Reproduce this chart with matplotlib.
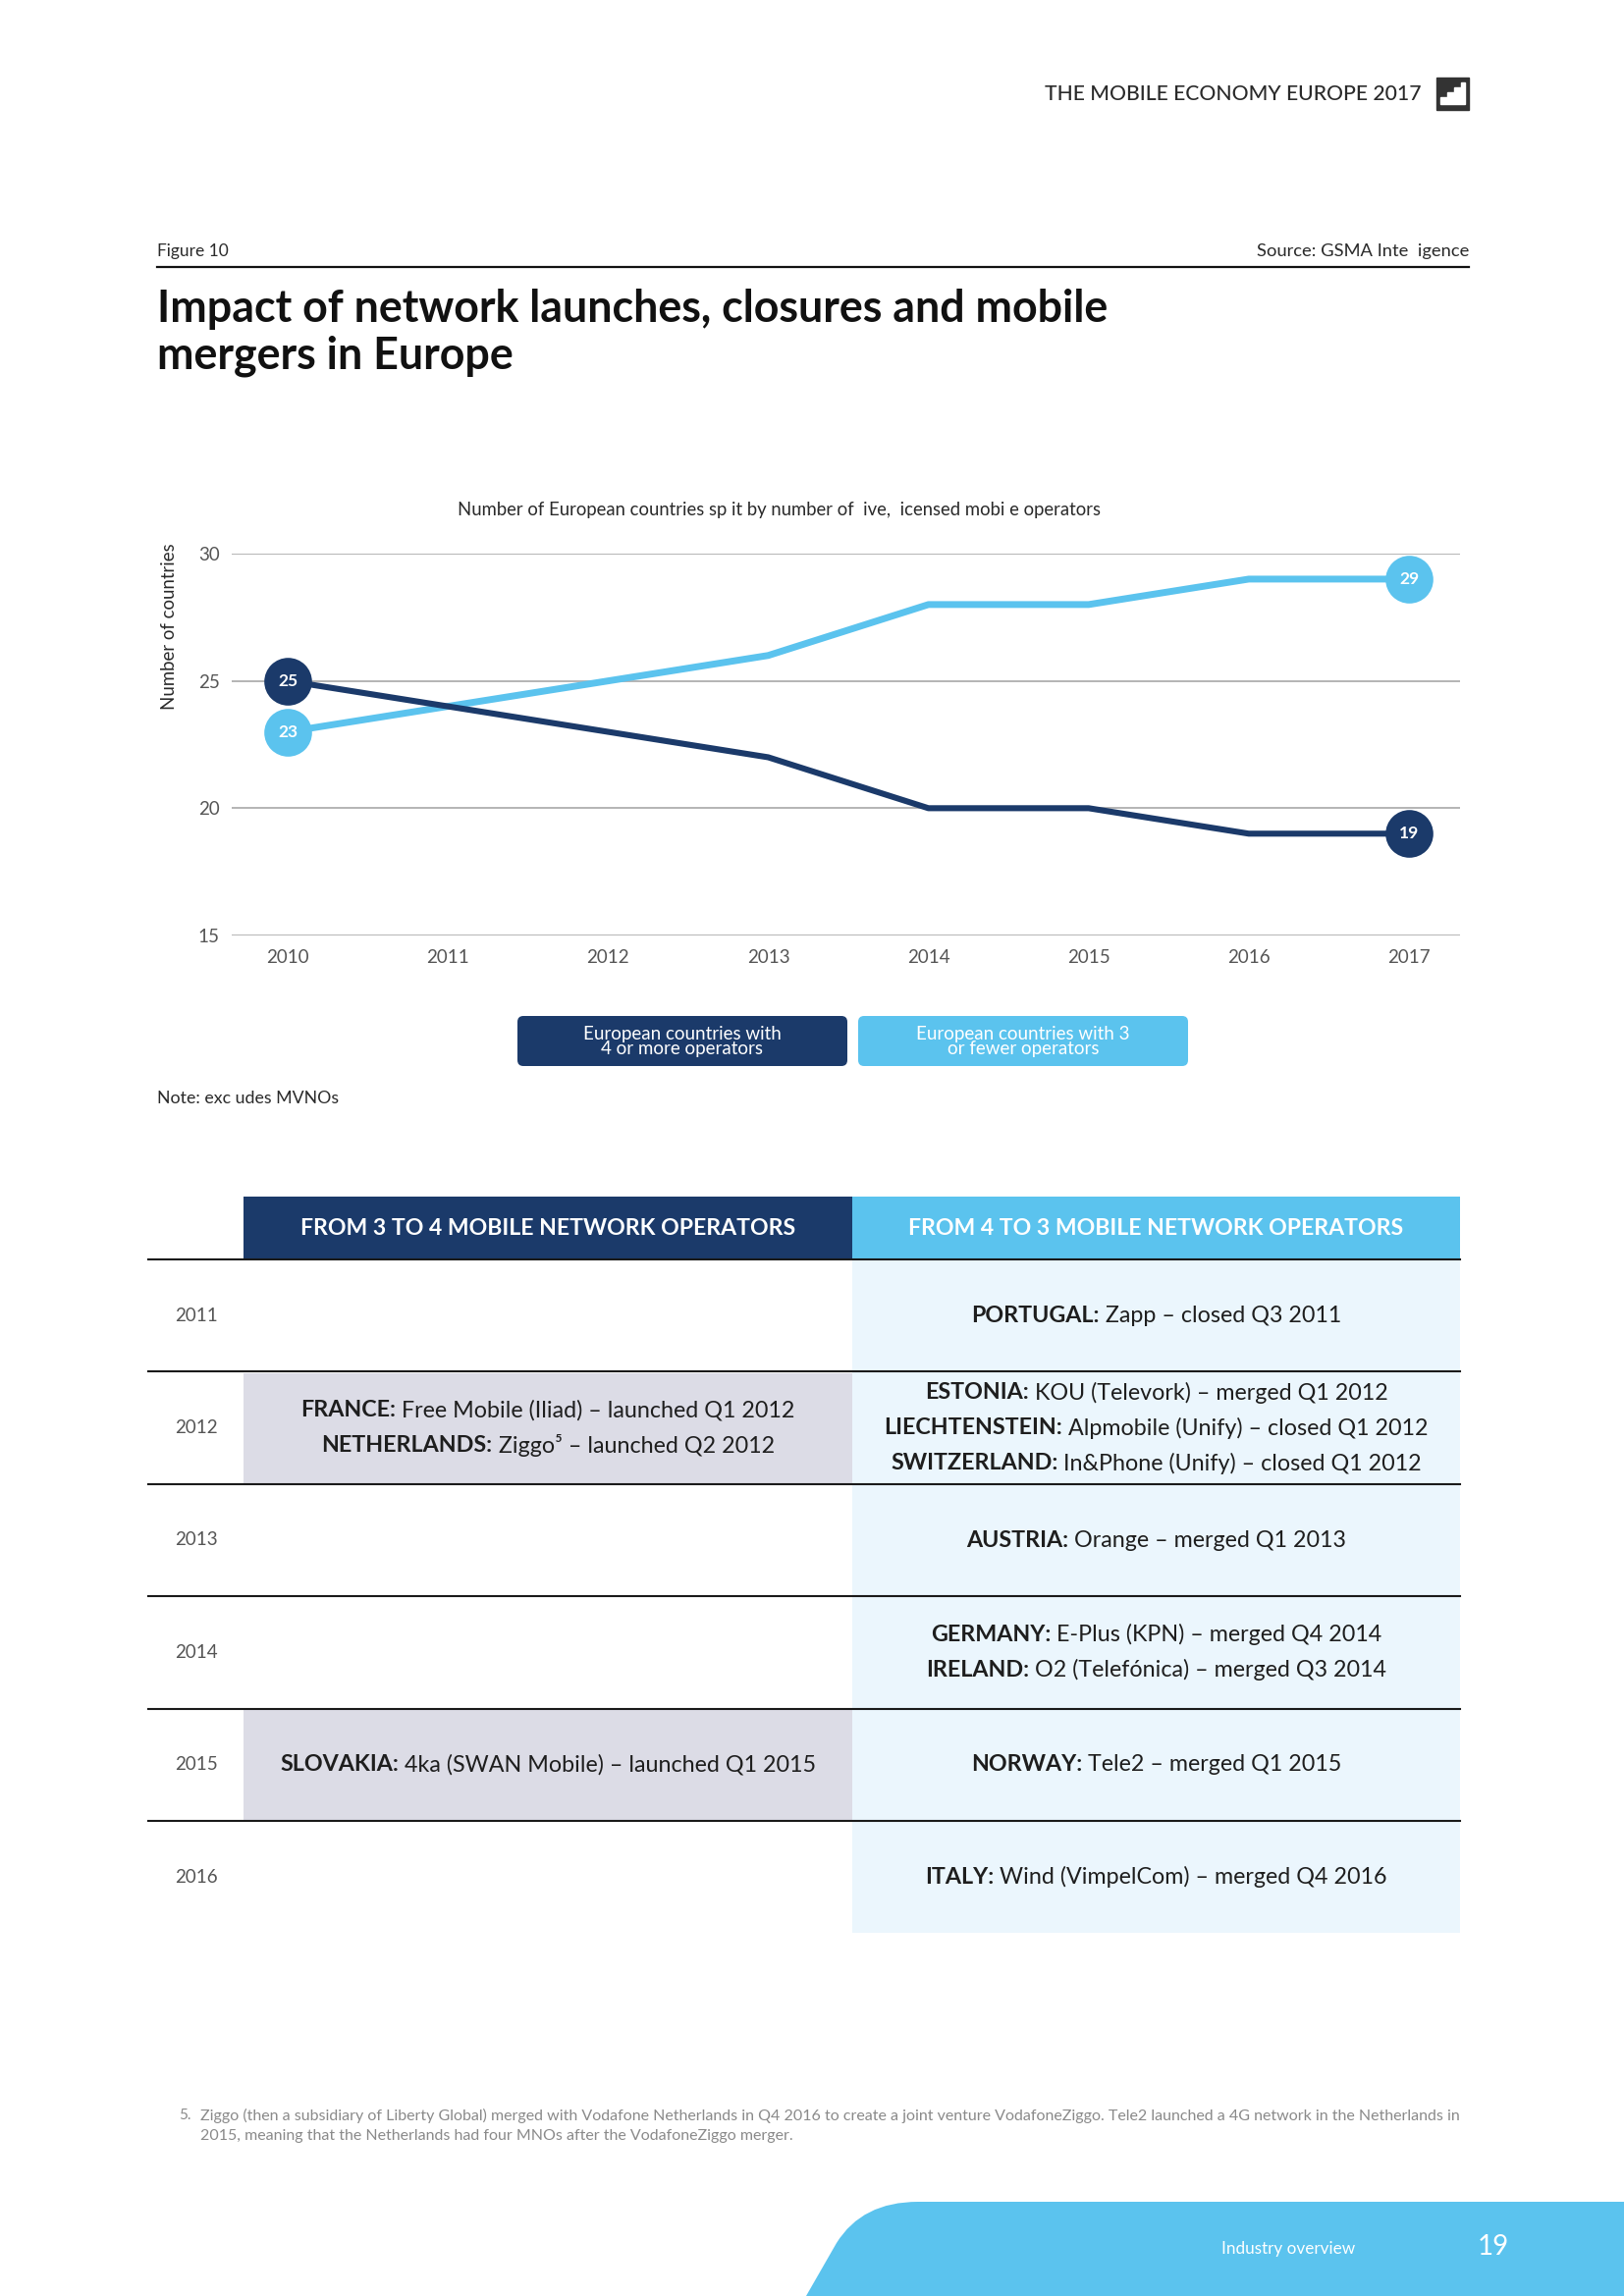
import matplotlib
matplotlib.use('Agg')
import matplotlib.pyplot as plt
from matplotlib.patches import Rectangle, FancyBboxPatch, PathPatch, Polygon
from matplotlib.path import Path

# ---------------------------------------------------------------
#  Data
# ---------------------------------------------------------------
years = [2010, 2011, 2012, 2013, 2014, 2015, 2016, 2017]
four_or_more = [25, 24, 23, 22, 20, 20, 19, 19]
three_or_fewer = [23, 24, 25, 26, 28, 28, 29, 29]
y_ticks = [15, 20, 25, 30]

table_years = ['2011', '2012', '2013', '2014', '2015', '2016']
launches = [
    [],
    [('FRANCE:', ' Free Mobile (Iliad) – launched Q1 2012'),
     ('NETHERLANDS:', ' Ziggo⁵ – launched Q2 2012')],
    [],
    [],
    [('SLOVAKIA:', ' 4ka (SWAN Mobile) – launched Q1 2015')],
    [],
]
closures = [
    [('PORTUGAL:', ' Zapp – closed Q3 2011')],
    [('ESTONIA:', ' KOU (Televork) – merged Q1 2012'),
     ('LIECHTENSTEIN:', ' Alpmobile (Unify) – closed Q1 2012'),
     ('SWITZERLAND:', ' In&Phone (Unify) – closed Q1 2012')],
    [('AUSTRIA:', ' Orange – merged Q1 2013')],
    [('GERMANY:', ' E-Plus (KPN) – merged Q4 2014'),
     ('IRELAND:', ' O2 (Telefónica) – merged Q3 2014')],
    [('NORWAY:', ' Tele2 – merged Q1 2015')],
    [('ITALY:', ' Wind (VimpelCom) – merged Q4 2016')],
]

# ---------------------------------------------------------------
#  Style
# ---------------------------------------------------------------
W, H = 1654, 2339
NAVY = '#1b3a6a'
SKY = '#5bc3ee'
GRID = '#a8a8a8'
TXT = '#1e1e1e'
GREY = '#555555'
FONT = ['Lato', 'DejaVu Sans']

plt.rcParams['font.family'] = FONT

fig = plt.figure(figsize=(W / 100, H / 100), dpi=100, facecolor='white')
page = fig.add_axes([0, 0, 1, 1])
page.set_xlim(0, W)
page.set_ylim(H, 0)
page.axis('off')
renderer = fig.canvas.get_renderer()


def fit(t, size, dim='width'):
    # scale the font so the text covers `size` pixels
    bb = t.get_window_extent(renderer)
    cur = bb.width if dim == 'width' else bb.height
    t.set_fontsize(t.get_fontsize() * size / cur)
    return t


def runs(xc, y, parts, fs, color=TXT):
    # bold label + regular text, centred on xc
    objs = [page.text(0, y, s, fontsize=fs, fontweight=w, color=color,
                      ha='left', va='center') for s, w in parts]
    widths = [o.get_window_extent(renderer).width for o in objs]
    x = xc - sum(widths) / 2
    for o, w in zip(objs, widths):
        o.set_x(x)
        x += w


# ---------------------------------------------------------------
#  Page header
# ---------------------------------------------------------------
t = page.text(1447, 96, 'THE MOBILE ECONOMY EUROPE 2017', ha='right', va='center',
              fontsize=13, color='#2a2a2a', fontweight='medium')
fit(t, 381)
page.add_patch(Rectangle((1463, 79), 33, 33, color='#333333'))
page.add_patch(Polygon([(1467, 106), (1467, 99), (1474, 99), (1474, 94), (1481, 94),
                        (1481, 89), (1488, 89), (1488, 84), (1492, 84), (1492, 106)],
                       closed=True, color='white'))

t = page.text(160, 256, 'Figure 10', ha='left', va='center', fontsize=11,
              color='#2a2a2a')
fit(t, 73)
t = page.text(1496, 256, 'Source: GSMA Inte  igence', ha='right', va='center',
              fontsize=11, color='#2a2a2a')
fit(t, 216)
page.plot([160, 1496], [272, 272], color='#111111', lw=1.6)

t1 = page.text(160, 315, 'Impact of network launches, closures and mobile',
               ha='left', va='center', fontsize=26, fontweight='bold', color='#111111')
fit(t1, 969)
page.text(160, 363, 'mergers in Europe', ha='left', va='center',
          fontsize=t1.get_fontsize(), fontweight='bold', color='#111111')

# ---------------------------------------------------------------
#  Line chart
# ---------------------------------------------------------------
t = page.text(793, 520, 'Number of European countries sp it by number of  ive,  icensed mobi e operators',
              ha='center', va='center', fontsize=10, color='#2a2a2a')
fit(t, 659)

ax_left, ax_right, ax_top, ax_bot = 236, 1487, 564, 953
ax = fig.add_axes([ax_left / W, 1 - ax_bot / H, (ax_right - ax_left) / W,
                   (ax_bot - ax_top) / H])
ax.patch.set_alpha(0)
px_year = (1435 - 293) / 7
ax.set_xlim(2010 - (293 - ax_left) / px_year, 2017 + (ax_right - 1435) / px_year)
ax.set_ylim(15, 30)
for v in y_ticks:
    ax.axhline(v, color=GRID, lw=1.2, zorder=1)
for s in ax.spines.values():
    s.set_visible(False)
ax.set_yticks(y_ticks)
ax.set_xticks(years)
ax.tick_params(length=0, labelsize=13.5, labelcolor=GREY)
ax.tick_params(axis='y', pad=9)
ax.tick_params(axis='x', pad=10)

ax.plot(years, three_or_fewer, color=SKY, lw=5, solid_capstyle='butt', zorder=3)
ax.plot(years, four_or_more, color=NAVY, lw=4.4, solid_capstyle='butt', zorder=4)
for series, col in [(three_or_fewer, SKY), (four_or_more, NAVY)]:
    for i in (0, len(years) - 1):
        ax.plot(years[i], series[i], 'o', ms=35, color=col, mew=0,
                zorder=5, clip_on=False)
        ax.text(years[i], series[i], str(series[i]), ha='center', va='center',
                color='white', fontsize=12.5, fontweight='bold', zorder=6)

t = page.text(173, 638, 'Number of countries', rotation=90, ha='center', va='center',
              fontsize=11, color='#2a2a2a')
fit(t, 169, dim='height')

# legend boxes
legend_items = [(527, NAVY, 'European countries with\n4 or more operators'),
                (874, SKY, 'European countries with 3\nor fewer operators')]
for x0, col, lab in legend_items:
    page.add_patch(FancyBboxPatch((x0, 1035), 336, 51,
                                  boxstyle='round,pad=0,rounding_size=6',
                                  color=col, lw=0))
    page.text(x0 + 168, 1061, lab, ha='center', va='center', color='white',
              fontsize=13.5, linespacing=0.92)

t = page.text(160, 1119, 'Note: exc udes MVNOs', ha='left', va='center',
              fontsize=11, color='#2a2a2a')
fit(t, 185)

# ---------------------------------------------------------------
#  Table
# ---------------------------------------------------------------
left_x0, mid_x, right_x1 = 248, 868, 1487
head_top, head_bot = 1219, 1283
row_h = 114.4

page.add_patch(Rectangle((left_x0, head_top), mid_x - left_x0, head_bot - head_top,
                         color=NAVY, lw=0))
page.add_patch(Rectangle((mid_x, head_top), right_x1 - mid_x, head_bot - head_top,
                         color=SKY, lw=0))
h1 = page.text((left_x0 + mid_x) / 2, 1252, 'FROM 3 TO 4 MOBILE NETWORK OPERATORS',
               ha='center', va='center', color='white', fontsize=16, fontweight='bold')
fit(h1, 503)
page.text((mid_x + right_x1) / 2, 1252, 'FROM 4 TO 3 MOBILE NETWORK OPERATORS',
          ha='center', va='center', color='white', fontsize=h1.get_fontsize(),
          fontweight='bold')

n_rows = len(table_years)
page.add_patch(Rectangle((mid_x, head_bot), right_x1 - mid_x, row_h * n_rows,
                         color='#ebf6fd', lw=0))

# cell font size from the widest left-hand line
probe = page.text(0, 0, 'FRANCE: Free Mobile (Iliad) – launched Q1 2012', fontsize=16)
fit(probe, 503)
cell_fs = probe.get_fontsize()
probe.remove()

line_gap = 36
for i, yr in enumerate(table_years):
    top = head_bot + i * row_h
    yc = top + row_h / 2
    if launches[i]:
        page.add_patch(Rectangle((left_x0, top + 1.5), mid_x - left_x0, row_h - 2.5,
                                 color='#dcdce6', lw=0))
    page.plot([151, right_x1], [top, top], color='#1a1a1a', lw=1.5, zorder=3)
    page.text(200, yc, yr, ha='center', va='center', fontsize=13.5, color=GREY)
    for cell, xc in [(launches[i], (left_x0 + mid_x) / 2),
                     (closures[i], (mid_x + right_x1) / 2)]:
        n = len(cell)
        for k, (bold, rest) in enumerate(cell):
            y = yc + (k - (n - 1) / 2) * line_gap
            runs(xc, y, [(bold, 'bold'), (rest, 'normal')], cell_fs)

# ---------------------------------------------------------------
#  Footnote and footer
# ---------------------------------------------------------------
page.text(182, 2155, '5.', ha='left', va='center', fontsize=11, color='#8a8a8a')
f1 = page.text(204, 2155, 'Ziggo (then a subsidiary of Liberty Global) merged with Vodafone '
               'Netherlands in Q4 2016 to create a joint venture VodafoneZiggo. Tele2 '
               'launched a 4G network in the Netherlands in',
               ha='left', va='center', fontsize=11, color='#8a8a8a')
fit(f1, 1283)
page.text(204, 2176, '2015, meaning that the Netherlands had four MNOs after the '
          'VodafoneZiggo merger.', ha='left', va='center', fontsize=f1.get_fontsize(),
          color='#8a8a8a')

verts = [(821, H), (852, 2285), (878, 2243), (935, 2243), (W, 2243), (W, H), (821, H)]
codes = [Path.MOVETO, Path.LINETO, Path.CURVE3, Path.CURVE3, Path.LINETO,
         Path.LINETO, Path.CLOSEPOLY]
page.add_patch(PathPatch(Path(verts, codes), color=SKY, lw=0))
t = page.text(1380, 2291, 'Industry overview', ha='right', va='center',
              fontsize=13, color='white')
fit(t, 135)
page.text(1521, 2289, '19', ha='center', va='center', fontsize=20, color='white')

fig.savefig('out.png', dpi=100, facecolor='white')
